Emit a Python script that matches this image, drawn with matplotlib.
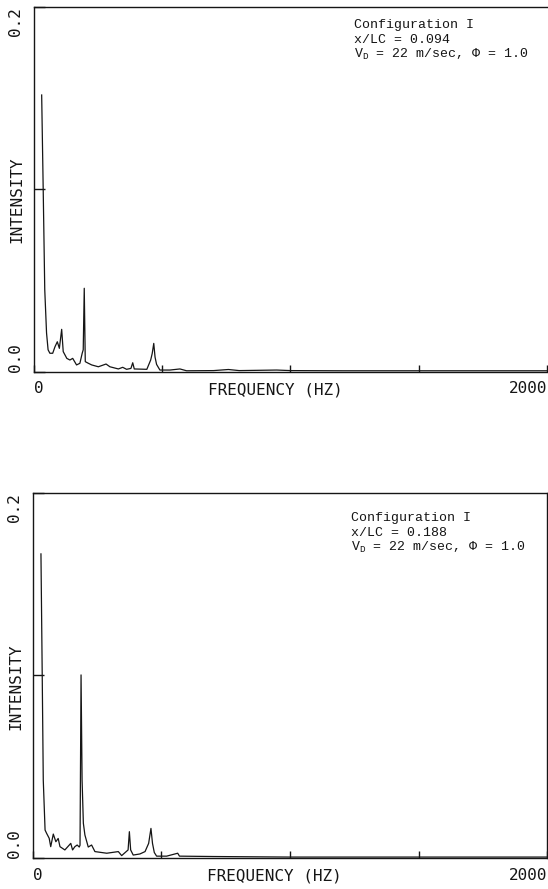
import matplotlib
matplotlib.use("Agg")
import matplotlib.pyplot as plt

plt.rcParams["mathtext.fontset"] = "custom"
plt.rcParams["mathtext.rm"] = "Liberation Mono"

# ── data ────────────────────────────────────────────────────────
freq_top = [30, 36, 42, 49, 55, 62, 73, 82, 91, 99, 108, 114, 128, 140, 151,
            166, 179, 188, 192, 196, 200, 212, 225, 251, 281, 296, 329, 346,
            361, 378, 385, 391, 440, 455, 461, 467, 472, 478, 491, 530, 569,
            595, 700, 758, 800, 946, 1000, 1200, 1500, 1800, 2000]
inten_top = [0.1516, 0.0995, 0.045, 0.0212, 0.012, 0.0101, 0.0101, 0.0137,
             0.0164, 0.0128, 0.0232, 0.011, 0.0073, 0.0064, 0.0073, 0.0037,
             0.0046, 0.0101, 0.012, 0.0457, 0.0055, 0.0046, 0.0037, 0.0027,
             0.0042, 0.0027, 0.0015, 0.0024, 0.0013, 0.0018, 0.0049, 0.0015,
             0.0013, 0.0064, 0.010, 0.0155, 0.008, 0.004, 0.0009, 0.0009,
             0.0015, 0.0005, 0.0006, 0.0012, 0.0006, 0.0009, 0.0006, 0.0005,
             0.0005, 0.0005, 0.0005]

freq_bot = [31, 36, 40, 47, 53, 63, 69, 79, 89, 98, 105, 124, 147, 154, 163,
            172, 180, 183, 187, 191, 196, 202, 215, 228, 241, 287, 332, 345,
            370, 375, 380, 390, 416, 436, 450, 459, 465, 472, 481, 520, 563,
            570, 700, 1000, 1500, 2000]
inten_bot = [0.1666, 0.099, 0.0427, 0.0153, 0.0135, 0.0108, 0.0062, 0.0131,
             0.0089, 0.0107, 0.0062, 0.0044, 0.008, 0.0044, 0.0062, 0.0071,
             0.006, 0.007, 0.1003, 0.0427, 0.019, 0.0126, 0.006, 0.0071,
             0.0035, 0.0026, 0.0035, 0.0013, 0.0044, 0.0144, 0.0044, 0.0016,
             0.0022, 0.0035, 0.008, 0.0162, 0.008, 0.003, 0.001, 0.001,
             0.0026, 0.001, 0.0008, 0.0005, 0.0005, 0.0005]

x_locs = [0, 500, 1000, 1500, 2000]
x_labels = ["0", "", "", "", "2000"]
y_locs = [0.0, 0.1, 0.2]
y_labels = ["0.0", "", "0.2"]

notes_top = ["Configuration I", "x/LC = 0.094", r"V$_{\mathrm{D}}$ = 22 m/sec, Φ = 1.0"]
notes_bot = ["Configuration I", "x/LC = 0.188", r"V$_{\mathrm{D}}$ = 22 m/sec, Φ = 1.0"]

MONO = "DejaVu Sans Mono"
TYPE = "Liberation Mono"
INK = "#151515"


def draw_panel(ax, freq, inten, notes, note_x, note_y):
    ax.plot(freq, inten, color=INK, lw=0.9)
    ax.set_xlim(0, 2000)
    ax.set_ylim(0, 0.2)

    for s in ax.spines.values():
        s.set_linewidth(1.0)
        s.set_color(INK)

    ax.set_xticks(x_locs, x_labels)
    ax.set_yticks(y_locs, y_labels)
    ax.tick_params(axis="x", direction="in", length=5, width=1, pad=7,
                   colors=INK, labelsize=11.5)
    ax.tick_params(axis="y", direction="in", length=8, width=1, pad=8,
                   colors=INK, labelsize=11.5)
    for lab in ax.get_xticklabels() + ax.get_yticklabels():
        lab.set_family(MONO)
    xl = ax.get_xticklabels()
    xl[0].set_ha("left")
    xl[-1].set_ha("right")
    yl = ax.get_yticklabels()
    for lab in yl:
        lab.set_rotation(90)
    yl[0].set_va("bottom")
    yl[-1].set_va("top")

    ax.set_xlabel("FREQUENCY (HZ)", family=MONO, fontsize=11.5, color=INK)
    ax.xaxis.set_label_coords(0.47, -0.03)
    ax.set_ylabel("INTENSITY", family=MONO, fontsize=11.5, color=INK)
    ax.yaxis.set_label_coords(-0.018, 0.47)

    for i, line in enumerate(notes):
        ax.text(note_x, note_y - i * 0.041, line, transform=ax.transAxes,
                family=TYPE, fontsize=9.5, color=INK, va="baseline")


# ── figure ──────────────────────────────────────────────────────
fig = plt.figure(figsize=(5.48, 8.89), dpi=100)

ax1 = fig.add_axes([0.0620, 0.5819, 0.9361, 0.4106])
draw_panel(ax1, freq_top, inten_top, notes_top, 0.624, 0.9416)
ax1.spines["right"].set_visible(False)  # cut off by the scan edge

ax2 = fig.add_axes([0.0602, 0.0349, 0.9380, 0.4106])
draw_panel(ax2, freq_bot, inten_bot, notes_bot, 0.619, 0.9233)

fig.savefig("out.png", dpi=100)
